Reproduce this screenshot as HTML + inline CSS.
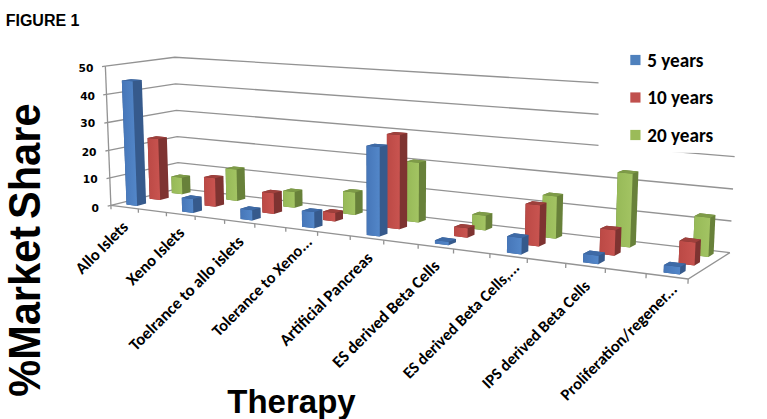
<!DOCTYPE html><html><head><meta charset="utf-8"><style>html,body{margin:0;padding:0;background:#fff;}svg{display:block;}.c{font-family:Carlito,"Liberation Sans",sans-serif;font-weight:bold;fill:#000;}.d{font-family:"DejaVu Sans",sans-serif;font-weight:bold;fill:#000;}.a{font-family:"Liberation Sans",Arial,sans-serif;font-weight:bold;fill:#000;}</style></head><body>
<svg width="767" height="419" viewBox="0 0 767 419">
<defs><linearGradient id="fb" x1="0" x2="1" y1="0" y2="0"><stop offset="0" stop-color="#4676b8"/><stop offset="1" stop-color="#5387c9"/></linearGradient><linearGradient id="fr" x1="0" x2="1" y1="0" y2="0"><stop offset="0" stop-color="#bb4945"/><stop offset="1" stop-color="#c95450"/></linearGradient><linearGradient id="fg" x1="0" x2="1" y1="0" y2="0"><stop offset="0" stop-color="#96b957"/><stop offset="1" stop-color="#a3c463"/></linearGradient></defs>
<rect width="767" height="419" fill="#fff"/>
<g fill="none" stroke="#939393" stroke-width="1.3"><polyline points="110.90,205.37 178.71,188.44 729.87,252.67" /><line x1="107.65" y1="206.18" x2="110.90" y2="205.37"/><polyline points="109.81,177.96 177.93,162.59 731.44,220.98" /><line x1="106.54" y1="178.70" x2="109.81" y2="177.96"/><polyline points="108.71,150.34 177.15,136.55 733.03,189.00" /><line x1="105.43" y1="151.00" x2="108.71" y2="150.34"/><polyline points="107.60,122.50 176.36,110.32 734.64,156.72" /><line x1="104.30" y1="123.08" x2="107.60" y2="122.50"/><polyline points="106.48,94.43 175.57,83.89 736.26,124.14" /><line x1="103.17" y1="94.94" x2="106.48" y2="94.43"/><polyline points="105.36,66.14 174.77,57.27 737.89,91.26" /><line x1="102.03" y1="66.57" x2="105.36" y2="66.14"/><line x1="110.90" y1="205.37" x2="105.36" y2="66.14"/><polyline points="110.90,205.37 688.16,278.98 729.87,252.67"/><line x1="110.90" y1="205.37" x2="111.05" y2="209.19"/><line x1="138.28" y1="208.86" x2="138.42" y2="212.72"/><line x1="166.34" y1="212.44" x2="166.46" y2="216.34"/><line x1="195.08" y1="216.10" x2="195.19" y2="220.06"/><line x1="224.55" y1="219.86" x2="224.65" y2="223.86"/><line x1="254.77" y1="223.71" x2="254.85" y2="227.76"/><line x1="285.77" y1="227.67" x2="285.83" y2="231.77"/><line x1="317.58" y1="231.72" x2="317.62" y2="235.87"/><line x1="350.23" y1="235.89" x2="350.25" y2="240.09"/><line x1="383.75" y1="240.16" x2="383.75" y2="244.42"/><line x1="418.19" y1="244.55" x2="418.17" y2="248.87"/><line x1="453.57" y1="249.06" x2="453.53" y2="253.43"/><line x1="489.94" y1="253.70" x2="489.87" y2="258.13"/><line x1="527.34" y1="258.47" x2="527.25" y2="262.96"/><line x1="565.81" y1="263.38" x2="565.69" y2="267.93"/><line x1="605.41" y1="268.43" x2="605.26" y2="273.04"/><line x1="646.17" y1="273.63" x2="646.00" y2="278.30"/><line x1="688.16" y1="278.98" x2="687.96" y2="283.72"/></g>
<rect x="598.5" y="30" width="169" height="122.8" fill="#fff"/>
<g><polygon fill="#68813a" points="171.87,193.12 182.29,194.36 190.54,192.25 190.08,175.77 179.68,174.62 171.36,176.59"/><polygon fill="url(#fg)" points="171.87,193.12 182.29,194.36 181.80,177.76 171.36,176.59"/><polygon fill="#7e9b48" points="171.36,176.59 181.80,177.76 190.08,175.77 179.68,174.62"/><polygon fill="#68813a" points="226.31,199.60 237.22,200.89 245.24,198.68 244.60,167.59 233.69,166.45 225.59,168.41"/><polygon fill="url(#fg)" points="226.31,199.60 237.22,200.89 236.55,169.57 225.59,168.41"/><polygon fill="#7e9b48" points="225.59,168.41 236.55,169.57 244.60,167.59 233.69,166.45"/><polygon fill="#68813a" points="283.36,206.38 294.81,207.74 302.55,205.42 302.36,189.83 290.95,188.56 283.13,190.74"/><polygon fill="url(#fg)" points="283.36,206.38 294.81,207.74 294.60,192.03 283.13,190.74"/><polygon fill="#7e9b48" points="283.13,190.74 294.60,192.03 302.36,189.83 290.95,188.56"/><polygon fill="#68813a" points="343.22,213.50 355.23,214.93 362.67,212.49 362.59,190.35 350.60,189.05 343.07,191.29"/><polygon fill="url(#fg)" points="343.22,213.50 355.23,214.93 355.13,192.61 343.07,191.29"/><polygon fill="#7e9b48" points="343.07,191.29 355.13,192.61 362.59,190.35 350.60,189.05"/><polygon fill="#68813a" points="406.09,220.97 418.72,222.47 425.81,219.91 426.14,160.63 413.47,159.43 406.25,161.49"/><polygon fill="url(#fg)" points="406.09,220.97 418.72,222.47 418.99,162.70 406.25,161.49"/><polygon fill="#7e9b48" points="406.25,161.49 418.99,162.70 426.14,160.63 413.47,159.43"/><polygon fill="#68813a" points="472.21,228.83 485.51,230.42 492.20,227.72 492.42,213.18 479.18,211.70 472.39,214.25"/><polygon fill="url(#fg)" points="472.21,228.83 485.51,230.42 485.72,215.76 472.39,214.25"/><polygon fill="#7e9b48" points="472.39,214.25 485.72,215.76 492.42,213.18 479.18,211.70"/><polygon fill="#68813a" points="541.85,237.11 555.86,238.78 562.11,235.94 563.17,193.92 549.16,192.49 542.79,194.95"/><polygon fill="url(#fg)" points="541.85,237.11 555.86,238.78 556.89,196.40 542.79,194.95"/><polygon fill="#7e9b48" points="542.79,194.95 556.89,196.40 563.17,193.92 549.16,192.49"/><polygon fill="#68813a" points="615.28,245.85 630.07,247.60 635.81,244.60 638.44,171.40 623.59,170.04 617.70,172.37"/><polygon fill="url(#fg)" points="615.28,245.85 630.07,247.60 632.66,173.75 617.70,172.37"/><polygon fill="#7e9b48" points="617.70,172.37 632.66,173.75 638.44,171.40 623.59,170.04"/><polygon fill="#68813a" points="692.82,255.07 708.45,256.93 713.62,253.75 715.46,214.93 699.85,213.31 694.55,216.10"/><polygon fill="url(#fg)" points="692.82,255.07 708.45,256.93 710.28,217.75 694.55,216.10"/><polygon fill="#7e9b48" points="694.55,216.10 710.28,217.75 715.46,214.93 699.85,213.31"/><polygon fill="#7e3331" points="149.65,198.73 160.18,200.02 168.78,197.82 166.88,137.30 156.30,136.29 147.58,138.02"/><polygon fill="url(#fr)" points="149.65,198.73 160.18,200.02 158.19,139.04 147.58,138.02"/><polygon fill="#9e403c" points="147.58,138.02 158.19,139.04 166.88,137.30 156.30,136.29"/><polygon fill="#7e3331" points="204.70,205.47 215.74,206.83 224.10,204.52 223.43,176.10 212.39,174.89 203.95,176.96"/><polygon fill="url(#fr)" points="204.70,205.47 215.74,206.83 215.03,178.19 203.95,176.96"/><polygon fill="#9e403c" points="203.95,176.96 215.03,178.19 223.43,176.10 212.39,174.89"/><polygon fill="#7e3331" points="262.44,212.55 274.03,213.97 282.12,211.54 281.80,191.01 270.24,189.71 262.07,191.95"/><polygon fill="url(#fr)" points="262.44,212.55 274.03,213.97 273.70,193.27 262.07,191.95"/><polygon fill="#9e403c" points="262.07,191.95 273.70,193.27 281.80,191.01 270.24,189.71"/><polygon fill="#7e3331" points="323.09,219.98 335.27,221.47 343.04,218.92 342.99,210.50 330.85,209.07 323.01,211.52"/><polygon fill="url(#fr)" points="323.09,219.98 335.27,221.47 335.21,212.98 323.01,211.52"/><polygon fill="#9e403c" points="323.01,211.52 335.21,212.98 342.99,210.50 330.85,209.07"/><polygon fill="#7e3331" points="386.86,227.79 399.68,229.36 407.09,226.68 407.36,133.10 394.44,132.01 386.85,133.88"/><polygon fill="url(#fr)" points="386.86,227.79 399.68,229.36 399.85,134.99 386.85,133.88"/><polygon fill="#9e403c" points="386.85,133.88 399.85,134.99 407.36,133.10 394.44,132.01"/><polygon fill="#7e3331" points="454.00,236.01 467.51,237.67 474.52,234.84 474.64,225.54 461.19,223.96 454.09,226.68"/><polygon fill="url(#fr)" points="454.00,236.01 467.51,237.67 467.62,228.29 454.09,226.68"/><polygon fill="#9e403c" points="454.09,226.68 467.62,228.29 474.64,225.54 461.19,223.96"/><polygon fill="#7e3331" points="524.80,244.68 539.05,246.43 545.60,243.45 546.54,202.65 532.29,201.14 525.61,203.74"/><polygon fill="url(#fr)" points="524.80,244.68 539.05,246.43 539.96,205.27 525.61,203.74"/><polygon fill="#9e403c" points="525.61,203.74 539.96,205.27 546.54,202.65 532.29,201.14"/><polygon fill="#7e3331" points="599.54,253.84 614.61,255.68 620.63,252.53 621.49,227.37 606.47,225.69 600.32,228.58"/><polygon fill="url(#fr)" points="599.54,253.84 614.61,255.68 615.45,230.29 600.32,228.58"/><polygon fill="#9e403c" points="600.32,228.58 615.45,230.29 621.49,227.37 606.47,225.69"/><polygon fill="#7e3331" points="678.59,263.52 694.53,265.47 699.96,262.14 700.99,239.39 685.11,237.59 679.55,240.68"/><polygon fill="url(#fr)" points="678.59,263.52 694.53,265.47 695.56,242.51 679.55,240.68"/><polygon fill="#9e403c" points="679.55,240.68 695.56,242.51 700.99,239.39 685.11,237.59"/><polygon fill="#365a8c" points="126.51,204.57 137.15,205.92 146.11,203.62 141.81,79.94 131.04,79.17 121.85,80.48"/><polygon fill="url(#fb)" points="126.51,204.57 137.15,205.92 132.66,81.26 121.85,80.48"/><polygon fill="#3e6aa6" points="121.85,80.48 132.66,81.26 141.81,79.94 131.04,79.17"/><polygon fill="#365a8c" points="182.16,211.60 193.34,213.01 202.05,210.61 201.68,196.69 190.54,195.37 181.75,197.64"/><polygon fill="url(#fb)" points="182.16,211.60 193.34,213.01 192.94,198.99 181.75,197.64"/><polygon fill="#3e6aa6" points="181.75,197.64 192.94,198.99 201.68,196.69 190.54,195.37"/><polygon fill="#365a8c" points="240.61,218.98 252.35,220.47 260.79,217.94 260.60,207.69 248.90,206.28 240.39,208.70"/><polygon fill="url(#fb)" points="240.61,218.98 252.35,220.47 252.15,210.13 240.39,208.70"/><polygon fill="#3e6aa6" points="240.39,208.70 252.15,210.13 260.60,207.69 248.90,206.28"/><polygon fill="#365a8c" points="302.06,226.75 314.41,228.31 322.53,225.64 322.38,209.59 310.06,208.13 301.86,210.63"/><polygon fill="url(#fb)" points="302.06,226.75 314.41,228.31 314.24,212.11 301.86,210.63"/><polygon fill="#3e6aa6" points="301.86,210.63 314.24,212.11 322.38,209.59 310.06,208.13"/><polygon fill="#365a8c" points="366.74,234.92 379.76,236.56 387.51,233.75 387.52,144.84 374.41,143.67 366.48,145.68"/><polygon fill="url(#fb)" points="366.74,234.92 379.76,236.56 379.66,146.88 366.48,145.68"/><polygon fill="#3e6aa6" points="366.48,145.68 379.66,146.88 387.52,144.84 374.41,143.67"/><polygon fill="#365a8c" points="434.93,243.53 448.66,245.26 456.01,242.30 456.04,238.93 442.39,237.25 434.96,240.14"/><polygon fill="url(#fb)" points="434.93,243.53 448.66,245.26 448.69,241.86 434.96,240.14"/><polygon fill="#3e6aa6" points="434.96,240.14 448.69,241.86 456.04,238.93 442.39,237.25"/><polygon fill="#365a8c" points="506.92,252.62 521.42,254.45 528.29,251.32 528.63,234.94 514.18,233.23 507.20,236.17"/><polygon fill="url(#fb)" points="506.92,252.62 521.42,254.45 521.75,237.92 507.20,236.17"/><polygon fill="#3e6aa6" points="507.20,236.17 521.75,237.92 528.63,234.94 514.18,233.23"/><polygon fill="#365a8c" points="583.02,262.23 598.38,264.17 604.71,260.86 604.97,252.46 589.71,250.60 583.26,253.80"/><polygon fill="url(#fb)" points="583.02,262.23 598.38,264.17 598.64,255.69 583.26,253.80"/><polygon fill="#3e6aa6" points="583.26,253.80 598.64,255.69 604.97,252.46 589.71,250.60"/><polygon fill="#365a8c" points="663.62,272.41 679.89,274.47 685.60,270.96 685.92,263.65 669.75,261.67 663.91,265.07"/><polygon fill="url(#fb)" points="663.62,272.41 679.89,274.47 680.20,267.09 663.91,265.07"/><polygon fill="#3e6aa6" points="663.91,265.07 680.20,267.09 685.92,263.65 669.75,261.67"/></g>
<text class="d" x="93.4" y="72.0" font-size="10.67" text-anchor="end">50</text>
<text class="d" x="95.0" y="99.6" font-size="10.67" text-anchor="end">40</text>
<text class="d" x="95.2" y="127.3" font-size="10.67" text-anchor="end">30</text>
<text class="d" x="96.5" y="156.0" font-size="10.67" text-anchor="end">20</text>
<text class="d" x="97.7" y="183.4" font-size="10.67" text-anchor="end">10</text>
<text class="d" x="99.0" y="211.6" font-size="10.67" text-anchor="end">0</text>
<text class="c" font-size="16.59" text-anchor="end" transform="translate(121.89,220.67) rotate(-45)" x="0" y="10.29" textLength="66.56" lengthAdjust="spacingAndGlyphs">Allo Islets</text>
<text class="c" font-size="16.56" text-anchor="end" transform="translate(178.06,226.51) rotate(-45)" x="0" y="10.26" textLength="74.28" lengthAdjust="spacingAndGlyphs">Xeno Islets</text>
<text class="c" font-size="16.77" text-anchor="end" transform="translate(237.33,235.40) rotate(-45)" x="0" y="10.40" textLength="154.06" lengthAdjust="spacingAndGlyphs">Toelrance to allo islets</text>
<text class="c" font-size="16.27" text-anchor="end" transform="translate(305.82,235.68) rotate(-45)" x="0" y="10.09" textLength="133.69" lengthAdjust="spacingAndGlyphs">Tolerance to Xeno...</text>
<text class="c" font-size="16.66" text-anchor="end" transform="translate(366.38,251.78) rotate(-45)" x="0" y="10.33" textLength="123.80" lengthAdjust="spacingAndGlyphs">Artificial Pancreas</text>
<text class="c" font-size="16.75" text-anchor="end" transform="translate(433.35,259.72) rotate(-45)" x="0" y="10.39" textLength="143.80" lengthAdjust="spacingAndGlyphs">ES derived Beta Cells</text>
<text class="c" font-size="16.26" text-anchor="end" transform="translate(513.15,261.55) rotate(-45)" x="0" y="10.08" textLength="156.72" lengthAdjust="spacingAndGlyphs">ES derived Beta Cells,...</text>
<text class="c" font-size="16.27" text-anchor="end" transform="translate(583.89,279.90) rotate(-45)" x="0" y="10.09" textLength="144.86" lengthAdjust="spacingAndGlyphs">IPS derived Beta Cells</text>
<text class="c" font-size="16.48" text-anchor="end" transform="translate(670.84,283.23) rotate(-45)" x="0" y="10.22" textLength="157.06" lengthAdjust="spacingAndGlyphs">Proliferation/regener...</text>
<rect x="630.3" y="54.9" width="10.2" height="10.2" fill="#4f81bd"/>
<text class="c" x="647.2" y="66.7" font-size="19.2" textLength="56.31" lengthAdjust="spacingAndGlyphs">5 years</text>
<rect x="630.3" y="92.4" width="10.2" height="10.2" fill="#c0504d"/>
<text class="c" x="647.2" y="104.2" font-size="19.2" textLength="66.05" lengthAdjust="spacingAndGlyphs">10 years</text>
<rect x="630.3" y="129.9" width="10.2" height="10.2" fill="#9bbb59"/>
<text class="c" x="647.2" y="141.7" font-size="19.2" textLength="66.05" lengthAdjust="spacingAndGlyphs">20 years</text>
<text class="a" x="5.7" y="26.0" font-size="16">FIGURE 1</text>
<text class="a" font-size="45.2" transform="translate(40.2,396.8) rotate(-90)" x="0" y="0" word-spacing="-5" textLength="293.3" lengthAdjust="spacingAndGlyphs">%Market Share</text>
<text class="a" x="227.3" y="412.8" font-size="33">Therapy</text>
</svg></body></html>
